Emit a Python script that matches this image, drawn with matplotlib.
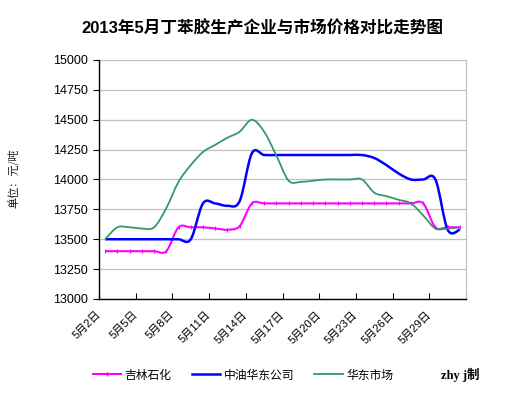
import numpy as np
import matplotlib
matplotlib.use("Agg")
import matplotlib.pyplot as plt
from matplotlib.path import Path
from matplotlib.patches import PathPatch
from matplotlib.lines import Line2D

plt.rcParams['font.family'] = ['Liberation Sans', 'Noto Sans CJK SC', 'DejaVu Sans']

# daily prices, 5/2 .. 5/31
days = [f"5月{d}日" for d in range(2, 32)]
jilin = [13400, 13400, 13400, 13400, 13400, 13400, 13600, 13600, 13600, 13590,
         13580, 13610, 13800, 13800, 13800, 13800, 13800, 13800, 13800, 13800,
         13800, 13800, 13800, 13800, 13800, 13800, 13800, 13600, 13600, 13600]
zhongyou = [13500, 13500, 13500, 13500, 13500, 13500, 13500, 13500, 13800, 13800,
            13780, 13820, 14220, 14205, 14205, 14205, 14205, 14205, 14205, 14205,
            14205, 14205, 14180, 14120, 14050, 14000, 14000, 14000, 13580, 13580]
huadong = [13500, 13600, 13600, 13590, 13600, 13760, 13980, 14120, 14230, 14290,
           14350, 14400, 14500, 14400, 14200, 13990, 13980, 13990, 14000, 14000,
           14000, 14000, 13890, 13860, 13830, 13800, 13700, 13590, 13590, 13600]
series = ["吉林石化", "中油华东公司", "华东市场"]
colors = ["#FF00FF", "#0000FF", "#339966"]
widths = [1.5, 1.8, 1.3]
yticks = np.arange(13000, 15001, 250)
tick_labels = [days[i] for i in range(0, 30, 3)]


def smooth_path(x, y):
    # catmull-rom style bezier, like excel's smoothed line
    x = np.asarray(x, float)
    y = np.asarray(y, float)
    pts = np.column_stack([x, y])
    n = len(pts)
    verts = [pts[0]]
    codes = [Path.MOVETO]
    for i in range(n - 1):
        p0 = pts[max(i - 1, 0)]
        p1 = pts[i]
        p2 = pts[i + 1]
        p3 = pts[min(i + 2, n - 1)]
        c1 = p1 + (p2 - p0) / 6.0
        c2 = p2 - (p3 - p1) / 6.0
        verts += [c1, c2, p2]
        codes += [Path.CURVE4] * 3
    return Path(verts, codes)


fig = plt.figure(figsize=(5.24, 3.95), dpi=100)
ax = fig.add_axes([99 / 524, 1 - 299 / 395, 367 / 524, 239 / 395])

x = np.arange(len(days))
for vals, c, lw in zip([jilin, zhongyou, huadong], colors, widths):
    ax.add_patch(PathPatch(smooth_path(x, vals), facecolor="none",
                           edgecolor=c, lw=lw, zorder=3))
ax.plot(x, jilin, ls="none", marker="|", ms=2.5, mew=0.8, color=colors[0], zorder=3)

ax.set_xlim(-0.5, len(days) - 0.5)
ax.set_ylim(13000, 15000)
ax.set_yticks(yticks)
ax.set_yticklabels([str(v) for v in yticks], fontsize=9)
ax.yaxis.grid(True, color="#C0C0C0", lw=0.9)
ax.set_axisbelow(True)

xt = np.arange(-0.5, len(days), 3)
ax.set_xticks(xt)
ax.set_xticklabels(tick_labels + [""], fontsize=8, rotation=45,
                   ha="right", va="center", rotation_mode="anchor")
ax.tick_params(axis="x", direction="in", length=4, pad=10, color="black")
ax.tick_params(axis="y", direction="out", length=4, pad=4, color="black")

for s in ["left", "bottom"]:
    ax.spines[s].set_color("black")
    ax.spines[s].set_linewidth(1.0)
ax.spines["right"].set_color("#C0C0C0")
ax.spines["top"].set_visible(False)

fig.text(0.5, 1 - 28 / 395, "2013年5月丁苯胶生产企业与市场价格对比走势图",
         ha="center", va="center", fontsize=12, fontweight="bold")
fig.text(15 / 524, 1 - 178 / 395, "单位：元/吨", rotation=90,
         ha="center", va="center", fontsize=8, family=['Noto Serif CJK SC', 'Noto Sans CJK SC'])

handles = [Line2D([], [], color=colors[0], lw=widths[0], marker="|", ms=3),
           Line2D([], [], color=colors[1], lw=widths[1]),
           Line2D([], [], color=colors[2], lw=widths[2])]
fig.legend(handles, series, loc="center", bbox_to_anchor=(243 / 524, 1 - 375 / 395),
           ncol=3, frameon=False, handlelength=2.4,
           handletextpad=0.3, columnspacing=1.7, prop={'family': ['Noto Sans CJK SC'], 'size': 8.5})
fig.text(460 / 524, 1 - 375 / 395, "zhy j制", ha="center", va="center",
         fontsize=9, fontweight="bold", family=['Liberation Serif', 'Noto Sans CJK SC'])

fig.savefig("out.png", dpi=100)
